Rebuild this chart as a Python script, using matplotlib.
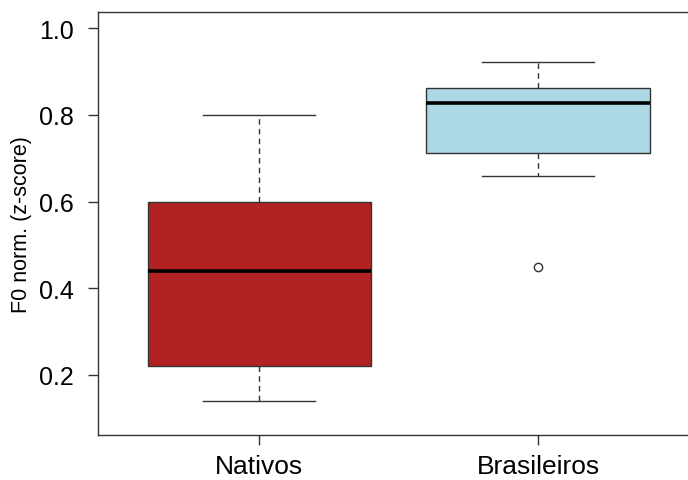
import matplotlib.pyplot as plt

grupos = ["Nativos", "Brasileiros"]
minimos = [0.14, 0.66]
q1 = [0.22, 0.711]
medianas = [0.44, 0.827]
q3 = [0.60, 0.861]
maximos = [0.80, 0.922]
outliers = [[], [0.448]]
cores = ["#B22222", "#ADD8E6"]

plt.rcParams['font.family'] = ['Liberation Sans', 'DejaVu Sans']

fig = plt.figure(figsize=(6.88, 4.81), dpi=100)
ax = fig.add_axes([0.142, 0.094, 0.875, 0.880])

stats = []
for i in range(len(grupos)):
    stats.append({
        "label": grupos[i],
        "whislo": minimos[i],
        "q1": q1[i],
        "med": medianas[i],
        "q3": q3[i],
        "whishi": maximos[i],
        "fliers": outliers[i],
    })

bp = ax.bxp(stats, positions=[1, 2], widths=0.8, capwidths=0.4,
            patch_artist=True,
            boxprops=dict(edgecolor="#333333", linewidth=1.0),
            medianprops=dict(color="black", linewidth=2.6, solid_capstyle="butt"),
            whiskerprops=dict(color="#333333", linewidth=1.0, linestyle=(0, (4, 3))),
            capprops=dict(color="#333333", linewidth=1.0),
            flierprops=dict(marker="o", markerfacecolor="white",
                            markeredgecolor="#333333", markersize=6, markeredgewidth=1.0))
for caixa, cor in zip(bp["boxes"], cores):
    caixa.set_facecolor(cor)

ax.set_xlim(0.421, 2.58)
ax.set_ylim(0.0616, 1.0385)
ax.set_yticks([0.2, 0.4, 0.6, 0.8, 1.0])
ax.set_yticklabels(["0.2", "0.4", "0.6", "0.8", "1.0"])
ax.set_xticks([1, 2])
ax.set_xticklabels(grupos)

for s in ax.spines.values():
    s.set_color("#333333")
    s.set_linewidth(1.0)
ax.tick_params(axis="y", length=7, width=1.0, color="#333333", labelsize=18, pad=10)
ax.tick_params(axis="x", length=7, width=1.0, color="#333333", labelsize=19, pad=7)

ax.set_ylabel("F0 norm. (z-score)", fontsize=15.5)
ax.yaxis.set_label_coords(-0.109, 0.5)

fig.savefig("out.png", dpi=100)
